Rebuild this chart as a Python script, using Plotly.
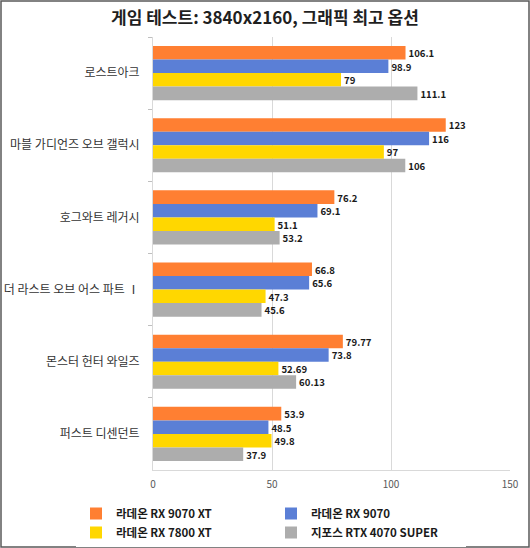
import plotly.graph_objects as go

categories = ["로스트아크", "마블 가디언즈 오브 갤럭시", "호그와트 레거시",
              "더 라스트 오브 어스 파트 Ⅰ", "몬스터 헌터 와일즈", "퍼스트 디센던트"]
series_names = ["라데온 RX 9070 XT", "라데온 RX 9070", "라데온 RX 7800 XT", "지포스 RTX 4070 SUPER"]
rx9070xt = [106.1, 123, 76.2, 66.8, 79.77, 53.9]
rx9070 = [98.9, 116, 69.1, 65.6, 73.8, 48.5]
rx7800xt = [79, 97, 51.1, 47.3, 52.69, 49.8]
rtx4070s = [111.1, 106, 53.2, 45.6, 60.13, 37.9]
colors = ["#FF7F32", "#5B7FD6", "#FFD700", "#ADADAD"]
x_ticks = [0, 50, 100, 150]

W, H = 530, 548
ML, MR, MT, MB = 153, 20, 37, 78
pw, ph = W - ML - MR, H - MT - MB

fig = go.Figure()
for name, vals, c in zip(series_names, [rx9070xt, rx9070, rx7800xt, rtx4070s], colors):
    fig.add_trace(go.Bar(
        y=categories, x=vals, name=name, orientation="h",
        marker=dict(color=c, line=dict(width=0)),
        text=[f"{v:g}" for v in vals], textposition="outside",
        textfont=dict(family="Noto Sans CJK KR", size=12, color="#1A1A1A", weight="bold"),
        cliponaxis=False,
    ))

fig.update_layout(
    width=W, height=H,
    margin=dict(l=ML, r=MR, t=MT, b=MB, autoexpand=False),
    paper_bgcolor="white", plot_bgcolor="white",
    barmode="group", bargap=0.25, bargroupgap=0,
    font=dict(family="Noto Sans CJK KR", color="#404040"),
    title=dict(text="<b>게임 테스트: 3840x2160, 그래픽 최고 옵션</b>", x=0.5, xanchor="center",
               y=1 - 18 / H, yanchor="middle",
               font=dict(family="Noto Sans CJK KR", size=17, color="#1F1F1F")),
    xaxis=dict(range=[0, 150], tickvals=x_ticks, showgrid=True, gridcolor="#D9D9D9", gridwidth=1,
               zeroline=False, showline=True, linecolor="#D9D9D9", ticks="",
               ticklabelstandoff=5,
               tickfont=dict(size=10, color="#595959"), automargin=False),
    yaxis=dict(autorange="reversed", showline=True, linecolor="#D9D9D9", ticks="outside",
               tickson="boundaries", ticklen=4, tickcolor="#BFBFBF", ticklabelstandoff=10,
               tickfont=dict(size=12, color="#333333"), automargin=False),
    legend=dict(orientation="h", x=(76 - ML) / pw, xanchor="left", y=-(29 / ph), yanchor="top",
                entrywidth=150, entrywidthmode="pixels", traceorder="normal",
                font=dict(size=11.5, color="#1A1A1A", weight="bold"), itemwidth=30,
                tracegroupgap=0),
    showlegend=True,
)

fig.add_shape(type="rect", xref="paper", yref="paper",
              x0=(1 - ML) / pw, x1=(W - 1 - ML) / pw,
              y0=-(MB - 1) / ph, y1=1 + (MT - 1) / ph,
              line=dict(color="#595959", width=1.5), fillcolor="rgba(0,0,0,0)", layer="below")

fig.write_html("out.html", config={"displayModeBar": False},
               post_script="document.body.style.margin='0';document.body.style.overflow='hidden';")
